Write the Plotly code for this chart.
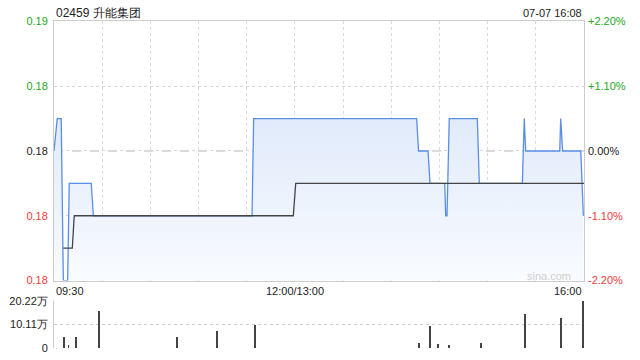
import plotly.graph_objects as go

# ---- data (minutes of trading clock since 09:30, lunch break removed) ----
title_text = "02459 升能集团"
stamp_text = "07-07 16:08"
prev_close = 0.182

price_min = [0, 2, 4.5, 5.8, 8.5, 9.5, 23.2, 24.5, 123.3, 124.3, 225.8, 227, 232.9, 234.1,
             243.3, 243.9, 244.7, 246.1, 263.6, 264.8, 291.6, 292.8, 293.7, 314.9, 315.5,
             316.7, 328, 329.6]
price_val = [0.182, 0.183, 0.183, 0.178, 0.178, 0.181, 0.181, 0.180, 0.180, 0.183, 0.183, 0.182,
             0.182, 0.181, 0.181, 0.180, 0.180, 0.183, 0.183, 0.181, 0.181, 0.183, 0.182,
             0.182, 0.183, 0.182, 0.182, 0.180]

avg_min = [5.8, 11.4, 12.6, 149, 150.5, 330]
avg_val = [0.179, 0.179, 0.180, 0.180, 0.181, 0.181]

vol_min = [1.5, 6, 9, 13.5, 28.2, 76.8, 101.7, 125, 227.5, 234.3, 239.3, 246.1, 265.7,
           293.5, 315.9, 329.2, 330]
vol_val = [1500, 46600, 16500, 46600, 161000, 46600, 74300, 99000, 23500, 95000, 20600,
           16500, 23500, 148500, 129000, 202200, 202200]

price_ticks = [0.178, 0.180, 0.182, 0.184, 0.186]
price_tick_text = ["0.18", "0.18", "0.18", "0.18", "0.19"]
pct_tick_text = ["-2.20%", "-1.10%", "0.00%", "+1.10%", "+2.20%"]
tick_colors = ["#f03c3c", "#f03c3c", "#222222", "#22a822", "#22a822"]

x_ticks = [0, 150, 330]
x_tick_text = ["09:30", "12:00/13:00", "16:00"]
vol_ticks = [0, 101100, 202200]
vol_tick_text = ["0", "10.11万", "20.22万"]

# ---- layout constants ----
W, H = 640, 360
xl, xr = 54 / W, 584 / W
main_dom = [1 - 284 / H, 1 - 16 / H]
vol_dom = [1 - 354 / H, 1 - 305 / H]
FONT = "Liberation Sans, Arial, sans-serif"

fig = go.Figure()

fig.add_trace(go.Scatter(
    x=price_min, y=price_val, mode="lines",
    line=dict(color="#5a8ee6", width=1.3),
    fill="tozeroy",
    fillgradient=dict(type="vertical", start=0.178, stop=0.1835,
                      colorscale=[[0, "rgba(250,252,255,1)"], [1, "rgba(222,233,250,1)"]]),
    xaxis="x", yaxis="y", hoverinfo="skip", showlegend=False))

fig.add_trace(go.Scatter(
    x=avg_min, y=avg_val, mode="lines",
    line=dict(color="#444444", width=1.3),
    xaxis="x", yaxis="y", hoverinfo="skip", showlegend=False))

# invisible trace for right axis
fig.add_trace(go.Scatter(x=[0], y=[prev_close], mode="markers", marker=dict(opacity=0),
                         xaxis="x", yaxis="y2", hoverinfo="skip", showlegend=False))

fig.add_trace(go.Bar(
    x=vol_min, y=vol_val, width=0.5, marker=dict(color="#444444", line=dict(width=0)),
    xaxis="x2", yaxis="y3", hoverinfo="skip", showlegend=False))

def colored(texts):
    return [f"<span style='color:{c}'>{t}</span>" for t, c in zip(texts, tick_colors)]

fig.update_layout(
    width=W, height=H, margin=dict(l=0, r=0, t=0, b=0),
    paper_bgcolor="white", plot_bgcolor="white",
    font=dict(family=FONT, size=11, color="#222222"),
    bargap=0,
    xaxis=dict(domain=[xl, xr], range=[0, 330], anchor="y",
               tickvals=[i * 30 for i in range(12)], ticktext=[""] * 12,
               showgrid=True, gridcolor="#dadada", griddash="dot", gridwidth=1,
               zeroline=False, showline=True, linecolor="#cccccc", mirror=True, ticks=""),
    yaxis=dict(domain=main_dom, range=[0.178, 0.186], anchor="x",
               tickvals=price_ticks, ticktext=colored(price_tick_text),
               showgrid=True, gridcolor="#d6d6d6", griddash="dot",
               zeroline=False, showline=True, linecolor="#cccccc", mirror=True,
               ticks="", ticklabelstandoff=3),
    yaxis2=dict(domain=main_dom, range=[0.178, 0.186], overlaying="y", side="right",
                anchor="x", tickvals=price_ticks, ticktext=colored(pct_tick_text),
                showgrid=False, zeroline=False, showline=False, ticks="",
                ticklabelstandoff=3),
    xaxis2=dict(domain=[xl, xr], range=[0, 330], anchor="y3",
                showgrid=False, zeroline=False, showline=False, showticklabels=False,
                ticks=""),
    yaxis3=dict(domain=vol_dom, range=[0, 202200], anchor="x2",
                tickvals=vol_ticks, ticktext=vol_tick_text,
                showgrid=True, gridcolor="#cfcfcf", griddash="dot",
                zeroline=False, showline=True, linecolor="#cccccc", ticks="",
                ticklabelstandoff=3),
)

# dashed previous-close line
fig.add_shape(type="line", xref="x", yref="y", x0=0, x1=330, y0=prev_close, y1=prev_close,
              line=dict(color="#b8b8b8", width=1, dash="dash"), layer="below")

# x tick labels (positioned like the reference)
for v, t, anc in zip(x_ticks, x_tick_text, ["left", "center", "right"]):
    fig.add_annotation(x=v, xref="x", y=1 - 295 / H, yref="paper", text=t, showarrow=False,
                       xanchor=anc, yanchor="middle", font=dict(size=11, color="#222222"))

fig.add_annotation(x=xl, xref="paper", y=1 - 7 / H, yref="paper", text=title_text,
                   showarrow=False, xanchor="left", yanchor="middle",
                   font=dict(size=12, color="#222222"))
fig.add_annotation(x=xr, xref="paper", y=1 - 7 / H, yref="paper", text=stamp_text,
                   showarrow=False, xanchor="right", yanchor="middle",
                   font=dict(size=11, color="#222222"))
fig.add_annotation(x=573 / W, xref="paper", y=1 - 279 / H, yref="paper", text="sina.com",
                   showarrow=False, xanchor="right", yanchor="middle",
                   font=dict(size=11, color="#cfcfcf"))

fig.write_html("out.html")
